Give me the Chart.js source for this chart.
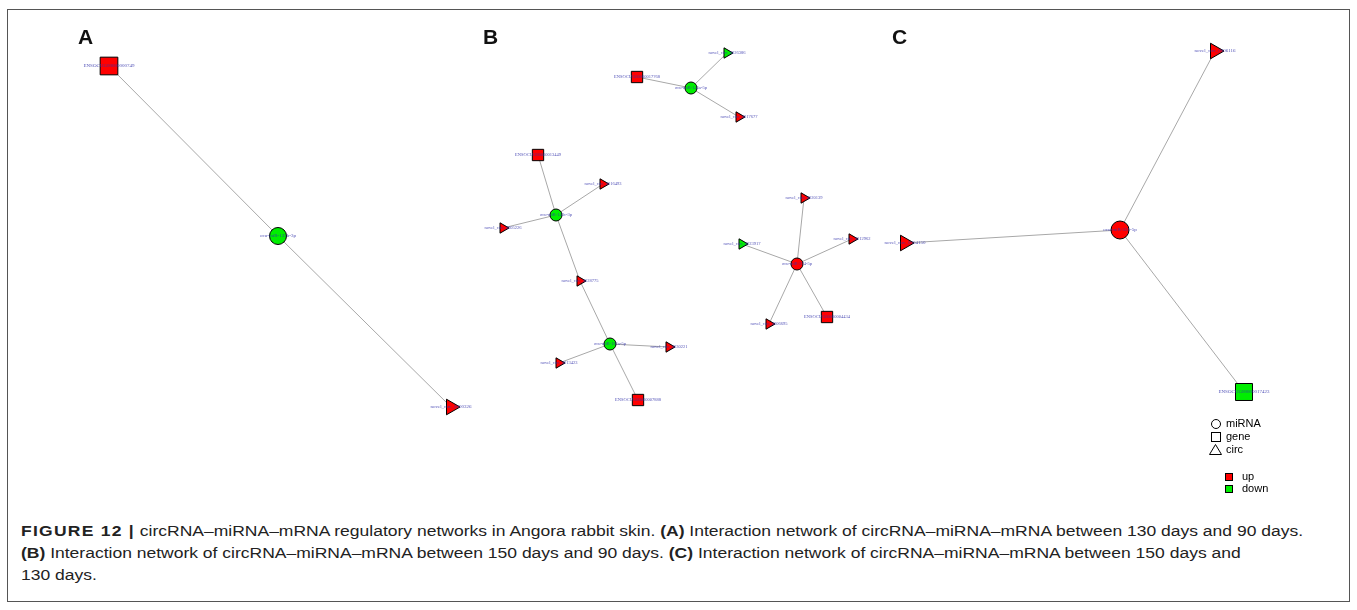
<!DOCTYPE html>
<html>
<head>
<meta charset="utf-8">
<script src="https://cdn.jsdelivr.net/npm/chart.js@4.4.0/dist/chart.umd.min.js"></script>
<style>
  html, body { margin: 0; padding: 0; background: #fff; }
  #wrap { position: relative; width: 1357px; height: 610px; overflow: hidden; }
  #frame { position: absolute; left: 7px; top: 9px; width: 1341px; height: 591px; border: 1px solid #555; }
  #net { position: absolute; left: 0; top: 0; }
  .panel { position: absolute; font: bold 21px "Liberation Sans", Arial, sans-serif; color: #111; }
  #caption { position: absolute; left: 21px; top: 520px; white-space: nowrap;
    font: 14px "Liberation Sans", Arial, sans-serif;
    color: #222; line-height: 22px;
    transform: scaleX(1.25); transform-origin: 0 0; }
  #caption b { font-weight: bold; }
  #caption b.fig { letter-spacing: 1px; }
</style>
</head>
<body>
<div id="wrap">
  <div id="frame"></div>
  <canvas id="net" width="1357" height="510"></canvas>
  <div class="panel" style="left:78px;top:25px">A</div>
  <div class="panel" style="left:483px;top:25px">B</div>
  <div class="panel" style="left:892px;top:25px">C</div>
  <div id="caption"><b class="fig">FIGURE 12 |</b> circRNA–miRNA–mRNA regulatory networks in Angora rabbit skin. <b>(A)</b> Interaction network of circRNA–miRNA–mRNA between 130 days and 90 days.<br><b>(B)</b> Interaction network of circRNA–miRNA–mRNA between 150 days and 90 days. <b>(C)</b> Interaction network of circRNA–miRNA–mRNA between 150 days and<br>130 days.</div>
</div>
<script>
// ===== nodes (layout coordinates) =====
const nodeNames = [
  "ENSOCUG00000000749", "ocu-miR-133b-3p", "novel_circ_0000326",
  "ENSOCUG00000017768", "ocu-miR-145a-5p", "novel_circ_0026386", "novel_circ_0017677",
  "ENSOCUG00000013449", "novel_circ_0016493", "ocu-miR-143c-3p", "novel_circ_0005226",
  "novel_circ_0028775", "ocu-miR-181a-5p", "novel_circ_0030221", "novel_circ_0013423", "ENSOCUG00000007888",
  "ocu-miR-374-5p", "novel_circ_0020139", "novel_circ_0012962", "novel_circ_0023917", "novel_circ_0006695", "ENSOCUG00000004434",
  "novel_circ_0006116", "ocu-miR-331-5p", "novel_circ_0004150", "ENSOCUG00000017423"
];
const nodeX = [109, 278, 451,
  637, 691, 727, 739,
  538, 603, 556, 503, 580, 610, 669, 559, 638,
  797, 804, 852, 742, 769, 827,
  1215, 1120, 905, 1244];
const nodeY = [66, 236, 407,
  77, 88, 53, 117,
  155, 184, 215, 228, 281, 344, 347, 363, 400,
  264, 198, 239, 244, 324, 317,
  51, 230, 243, 392];
const nodeType = ["gene", "miRNA", "circ",
  "gene", "miRNA", "circ", "circ",
  "gene", "circ", "miRNA", "circ", "circ", "miRNA", "circ", "circ", "gene",
  "miRNA", "circ", "circ", "circ", "circ", "gene",
  "circ", "miRNA", "circ", "gene"];
const nodeReg = ["up", "down", "up",
  "up", "down", "down", "up",
  "up", "up", "down", "up", "up", "down", "up", "up", "up",
  "up", "up", "up", "down", "up", "up",
  "up", "up", "up", "down"];
const nodePanel = ["A", "A", "A",
  "B", "B", "B", "B", "B", "B", "B", "B", "B", "B", "B", "B", "B", "B", "B", "B", "B", "B", "B",
  "C", "C", "C", "C"];

// ===== edges (node indices) =====
const edgeFrom = [1, 1, 4, 4, 4, 9, 9, 9, 9, 11, 12, 12, 12, 16, 16, 16, 16, 16, 23, 23, 23];
const edgeTo   = [0, 2, 3, 5, 6, 7, 8, 10, 11, 12, 13, 14, 15, 17, 18, 19, 20, 21, 22, 24, 25];

// ===== styles =====
const regColor = { up: "#ff0000", down: "#00ee00" };
const shapeStyle = { gene: "rect", miRNA: "circle", circ: "triangle" };
const shapeRadius = {
  A: { gene: 12.5, miRNA: 8.5, circ: 9 },
  B: { gene: 8, miRNA: 6, circ: 6 },
  C: { gene: 12, miRNA: 9, circ: 9 }
};

const edgeSets = edgeFrom.map((f, i) => ({
  type: "line",
  data: [{ x: nodeX[f], y: nodeY[f] }, { x: nodeX[edgeTo[i]], y: nodeY[edgeTo[i]] }],
  borderColor: "#a8a8a8",
  borderWidth: 1,
  pointRadius: 0,
  fill: false,
  order: 2
}));

const nodeSet = {
  type: "scatter",
  data: nodeX.map((x, i) => ({ x: x, y: nodeY[i] })),
  pointStyle: nodeType.map(t => shapeStyle[t]),
  pointRadius: nodeType.map((t, i) => shapeRadius[nodePanel[i]][t]),
  pointRotation: nodeType.map(t => (t === "circ" ? 90 : 0)),
  backgroundColor: nodeReg.map(r => regColor[r]),
  borderColor: "#000",
  borderWidth: 1,
  order: 1
};

// node labels + legend
const nodeLabels = {
  id: "nodeLabels",
  afterDatasetsDraw(chart) {
    const ctx = chart.ctx;
    const xs = chart.scales.x, ys = chart.scales.y;
    ctx.save();
    ctx.fillStyle = "rgba(50,50,170,0.85)";
    ctx.textAlign = "center";
    ctx.textBaseline = "middle";
    nodeNames.forEach((n, i) => {
      ctx.font = (nodePanel[i] === "B" ? "4.5px" : "5px") + " 'Liberation Serif', serif";
      ctx.fillText(n, xs.getPixelForValue(nodeX[i]), ys.getPixelForValue(nodeY[i]));
    });
    ctx.restore();

    // legend
    ctx.save();
    ctx.strokeStyle = "#000";
    ctx.lineWidth = 1;
    ctx.fillStyle = "#000";
    ctx.font = "11px 'Liberation Sans', Arial, sans-serif";
    ctx.textBaseline = "middle";
    ctx.textAlign = "left";
    ctx.beginPath(); ctx.arc(1216, 424, 4.5, 0, Math.PI * 2); ctx.stroke();
    ctx.strokeRect(1211.5, 432.5, 9, 9);
    ctx.beginPath(); ctx.moveTo(1209.5, 454.5); ctx.lineTo(1221.5, 454.5); ctx.lineTo(1215.5, 444.5); ctx.closePath(); ctx.stroke();
    ctx.fillText("miRNA", 1226, 424);
    ctx.fillText("gene", 1226, 437);
    ctx.fillText("circ", 1226, 450);
    [["up", "#ff0000", 477], ["down", "#00ee00", 489]].forEach(([t, c, y]) => {
      ctx.fillStyle = c;
      ctx.fillRect(1225.5, y - 3.5, 7, 7);
      ctx.strokeRect(1225.5, y - 3.5, 7, 7);
      ctx.fillStyle = "#000";
      ctx.fillText(t, 1242, y);
    });
    ctx.restore();
  }
};

new Chart(document.getElementById("net"), {
  data: { datasets: [...edgeSets, nodeSet] },
  options: {
    responsive: false,
    animation: false,
    layout: { padding: 0, autoPadding: false },
    scales: {
      x: { type: "linear", min: 0, max: 1357, display: false },
      y: { type: "linear", min: 0, max: 510, reverse: true, display: false }
    },
    plugins: { legend: { display: false }, tooltip: { enabled: false } }
  },
  plugins: [nodeLabels]
});
</script>
</body>
</html>
